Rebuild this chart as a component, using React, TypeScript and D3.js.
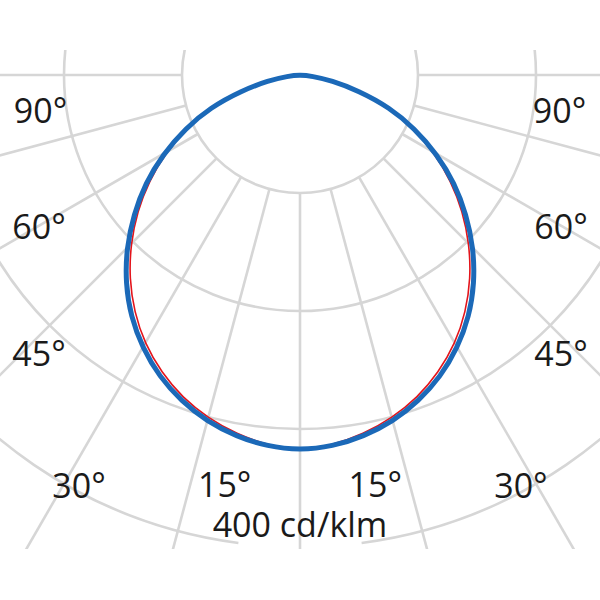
import React from "react";
import * as d3 from "d3";

// Luminous intensity (cd/klm) by angle from nadir (degrees)
const angles = [0, 5, 10, 15, 20, 25, 30, 35, 40, 45, 50, 55, 60, 65, 70, 75, 80, 85, 90];
const planeC0 = [318, 316, 311, 304, 294, 282, 267, 250, 230, 208, 184, 160, 134, 107, 81, 51, 27, 10, 0];
const planeC90 = [318, 315, 309, 301, 291, 278, 263, 245, 225, 203, 180, 156, 131, 105, 79, 51, 27, 10, 0];

const ringValues = [100, 200, 300, 400];
const rayAngles = [-90, -75, -60, -45, -30, -15, 0, 15, 30, 45, 60, 75, 90];
const angleLabels = ["90°", "60°", "45°", "30°", "15°"];
const unitLabel = "400 cd/klm";

// layout
const W = 600;
const H = 600;
const cx = 300;
const cy = 75;
const clipTop = 50;
const clipBottom = 549;
// label placement (polar, radius in px, angle in degrees from nadir)
const labelPolar = [
  { r: 262, a: 82.1 },
  { r: 302, a: 59.8 },
  { r: 382, a: 43.1 },
  { r: 466, a: 28.3 },
  { r: 417, a: 10.4 },
];

const rScale = d3.scaleLinear().domain([0, 400]).range([0, 472]);
const toRad = (deg: number) => (deg * Math.PI) / 180;
const polar = (r: number, deg: number): [number, number] => [
  cx - r * Math.sin(toRad(deg)),
  cy + r * Math.cos(toRad(deg)),
];

function curvePath(values: number[]) {
  const pts: [number, number][] = [];
  // right half from the top (−90°) down to nadir, then left half up to 85°; closed back to the centre
  for (let i = angles.length - 1; i >= 0; i--) pts.push([-angles[i], values[i]]);
  for (let i = 1; i < angles.length - 1; i++) pts.push([angles[i], values[i]]);
  const line = d3
    .line<[number, number]>()
    .x((d) => polar(rScale(d[1]), d[0])[0])
    .y((d) => polar(rScale(d[1]), d[0])[1])
    .curve(d3.curveBasisClosed);
  return line(pts) || "";
}

export default function App() {
  const grid = "#d6d6d6";
  const innerR = rScale(ringValues[0]);
  const outerR = rScale(ringValues[ringValues.length - 1]);
  const gapArc = d3
    .arc()
    .innerRadius(outerR)
    .outerRadius(outerR)
    .startAngle(Math.PI + toRad(7.5))
    .endAngle(Math.PI * 3 - toRad(7.5));
  return (
    <svg
      width={W}
      height={H}
      style={{ position: "absolute", left: 0, top: 0, background: "#fff" }}
      fontFamily="'Open Sans', sans-serif"
    >
      <defs>
        <clipPath id="gridClip">
          <rect x={0} y={clipTop} width={W} height={clipBottom - clipTop} />
        </clipPath>
      </defs>
      <g clipPath="url(#gridClip)" stroke={grid} strokeWidth={2.6} fill="none">
        {ringValues.slice(0, -1).map((v) => (
          <circle key={v} cx={cx} cy={cy} r={rScale(v)} />
        ))}
        <path d={gapArc({} as any) || ""} transform={`translate(${cx},${cy})`} />
        {rayAngles.map((a) => {
          const [x1, y1] = polar(innerR, a);
          const [x2, y2] = polar(900, a);
          return <line key={a} x1={x1} y1={y1} x2={x2} y2={y2} />;
        })}
      </g>
      <g fill="none" strokeLinejoin="round">
        <path d={curvePath(planeC90)} stroke="#e3141b" strokeWidth={1.6} />
        <path d={curvePath(planeC0)} stroke="#1b69b8" strokeWidth={5} />
      </g>
      <g fontSize={34} fill="#1a1a1a" textAnchor="middle">
        {angleLabels.map((t, i) => {
          const [x, y] = polar(labelPolar[i].r, labelPolar[i].a);
          return (
            <React.Fragment key={t}>
              <text x={x} y={y} dy="0.36em">{t}</text>
              <text x={2 * cx - x} y={y} dy="0.36em">{t}</text>
            </React.Fragment>
          );
        })}
        <text x={cx} y={polar(outerR - 22, 0)[1]} dy="0.36em">{unitLabel}</text>
      </g>
    </svg>
  );
}
